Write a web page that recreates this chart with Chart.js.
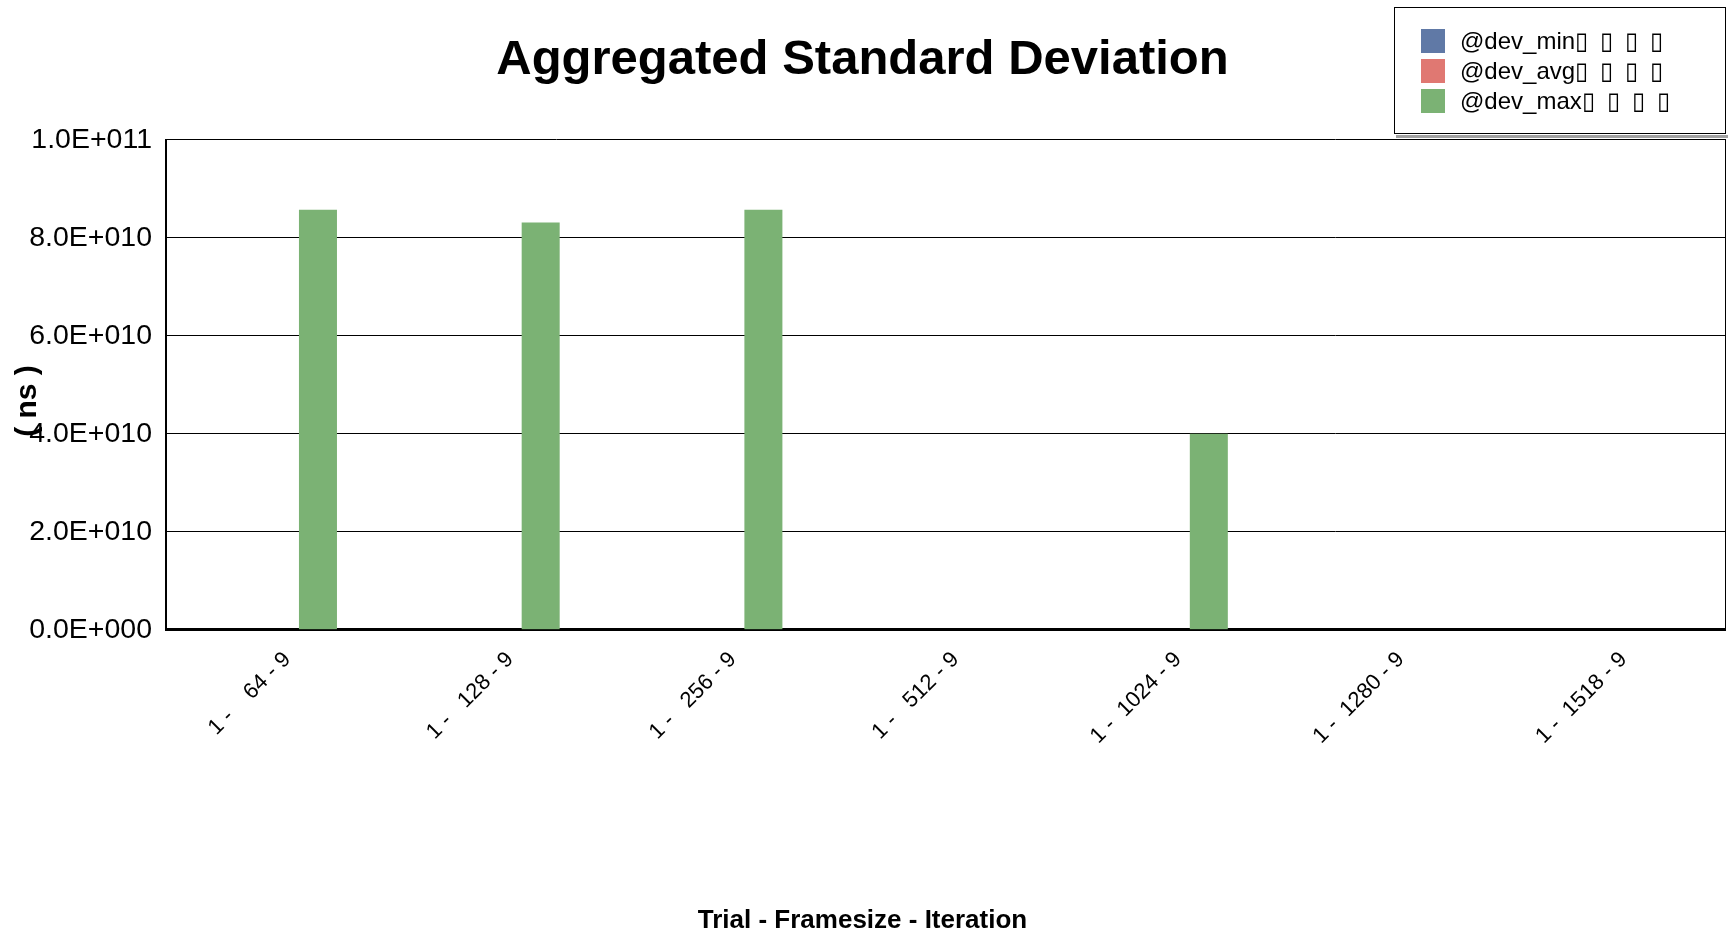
<!DOCTYPE html>
<html lang="en">
<head>
  <meta charset="UTF-8">
  <title>Aggregated Standard Deviation</title>
  <script src="https://cdn.jsdelivr.net/npm/chart.js"></script>
  <style>
    body { margin: 0; background-color: #ffffff; }
    #wrap { width: 1728px; height: 938px; position: relative; }
  </style>
</head>
<body>
  <div id="wrap">
    <canvas id="devChart"></canvas>
  </div>

  <script>
    // values
    const categories = ['1 -    64 - 9', '1 -   128 - 9', '1 -   256 - 9', '1 -   512 - 9',
                        '1 -  1024 - 9', '1 -  1280 - 9', '1 -  1518 - 9'];
    const devMin = [0, 0, 0, 0, 0, 0, 0];
    const devAvg = [0, 0, 0, 0, 0, 0, 0];
    const devMax = [8.57e10, 8.31e10, 8.57e10, 0, 4.0e10, 0, 0];
    const tofu = '\u25AF\u2002\u25AF\u2002\u25AF\u2002\u25AF';
    const seriesNames = ['@dev_min' + tofu, '@dev_avg' + tofu, '@dev_max' + tofu];
    const seriesColors = ['#6079a6', '#e07872', '#7bb274'];
    const yMax = 1e11;
    const yStep = 2e10;

    const chartTitle = 'Aggregated Standard Deviation';
    const xTitle = 'Trial - Framesize - Iteration';
    const yTitle = '( ns )';

    const FONT = "'Liberation Sans', Arial, sans-serif";

    function sci(v) {
      if (v === 0) return '0.0E+000';
      const exp = Math.floor(Math.log10(v) + 1e-9);
      const mant = v / Math.pow(10, exp);
      return mant.toFixed(1) + 'E+' + String(exp).padStart(3, '0');
    }

    // y title sits over the tick labels, and the legend box sits beside the title
    const extras = {
      id: 'extras',
      afterDraw(chart) {
        const ctx = chart.ctx;
        ctx.save();
        ctx.fillStyle = '#000';
        ctx.font = "bold 30px " + FONT;
        ctx.textAlign = 'center';
        ctx.textBaseline = 'middle';
        ctx.translate(28, 401);
        ctx.rotate(-Math.PI / 2);
        ctx.fillText(yTitle, 0, 0);
        ctx.restore();

        const bx = 1394, by = 7, bw = 331, bh = 126;
        ctx.save();
        ctx.fillStyle = '#a0a0a0';
        ctx.fillRect(bx + 2, by + bh + 2, bw + 2, 3);
        ctx.fillStyle = '#fff';
        ctx.fillRect(bx, by, bw, bh);
        ctx.strokeStyle = '#000';
        ctx.lineWidth = 1;
        ctx.strokeRect(bx + 0.5, by + 0.5, bw, bh);
        ctx.font = "24px " + FONT;
        ctx.textBaseline = 'middle';
        ctx.textAlign = 'left';
        chart.data.datasets.forEach((ds, i) => {
          const cy = 41 + i * 30;
          ctx.fillStyle = ds.backgroundColor;
          ctx.fillRect(1421, cy - 12, 24, 24);
          ctx.fillStyle = '#000';
          ctx.fillText(ds.label, 1460, cy + 1);
        });
        ctx.restore();
      }
    };

    const ctx = document.getElementById('devChart').getContext('2d');
    new Chart(ctx, {
      type: 'bar',
      data: {
        labels: categories,
        datasets: [
          { label: seriesNames[0], data: devMin, backgroundColor: seriesColors[0] },
          { label: seriesNames[1], data: devAvg, backgroundColor: seriesColors[1] },
          { label: seriesNames[2], data: devMax, backgroundColor: seriesColors[2] }
        ]
      },
      options: {
        responsive: true,
        maintainAspectRatio: false,
        animation: false,
        categoryPercentage: 0.547,
        barPercentage: 0.936,
        layout: { padding: { left: 0, right: 3, top: 0, bottom: 0 } },
        plugins: {
          legend: { display: false },
          tooltip: { enabled: false },
          title: {
            display: true,
            text: chartTitle,
            color: '#000',
            font: { family: FONT, size: 49, weight: 'bold' },
            padding: { top: 31, bottom: 50 }
          },
          subtitle: {
            display: true,
            position: 'bottom',
            text: xTitle,
            color: '#000',
            font: { family: FONT, size: 26, weight: 'bold' },
            padding: { top: 40, bottom: 2 }
          }
        },
        scales: {
          x: {
            grid: { display: false },
            border: { display: true, color: '#000', width: 3 },
            ticks: {
              color: '#000',
              font: { family: FONT, size: 22 },
              minRotation: 45,
              maxRotation: 45,
              padding: 9,
              labelOffset: 10
            },
            afterFit: (scale) => { scale.height = 235; }
          },
          y: {
            min: 0,
            max: yMax,
            grid: { color: '#000', lineWidth: 1, drawTicks: false },
            border: { display: true, color: '#000', width: 2 },
            ticks: {
              stepSize: yStep,
              color: '#000',
              font: { family: FONT, size: 28.5 },
              padding: 14,
              callback: (v) => sci(v)
            },
            afterFit: (scale) => { scale.width = 166; }
          },
          y2: {
            position: 'right',
            min: 0,
            max: yMax,
            grid: { display: false },
            ticks: { display: false },
            border: { display: true, color: '#000', width: 1 },
            afterFit: (scale) => { scale.width = 0; }
          }
        }
      },
      plugins: [extras]
    });
  </script>
</body>
</html>
